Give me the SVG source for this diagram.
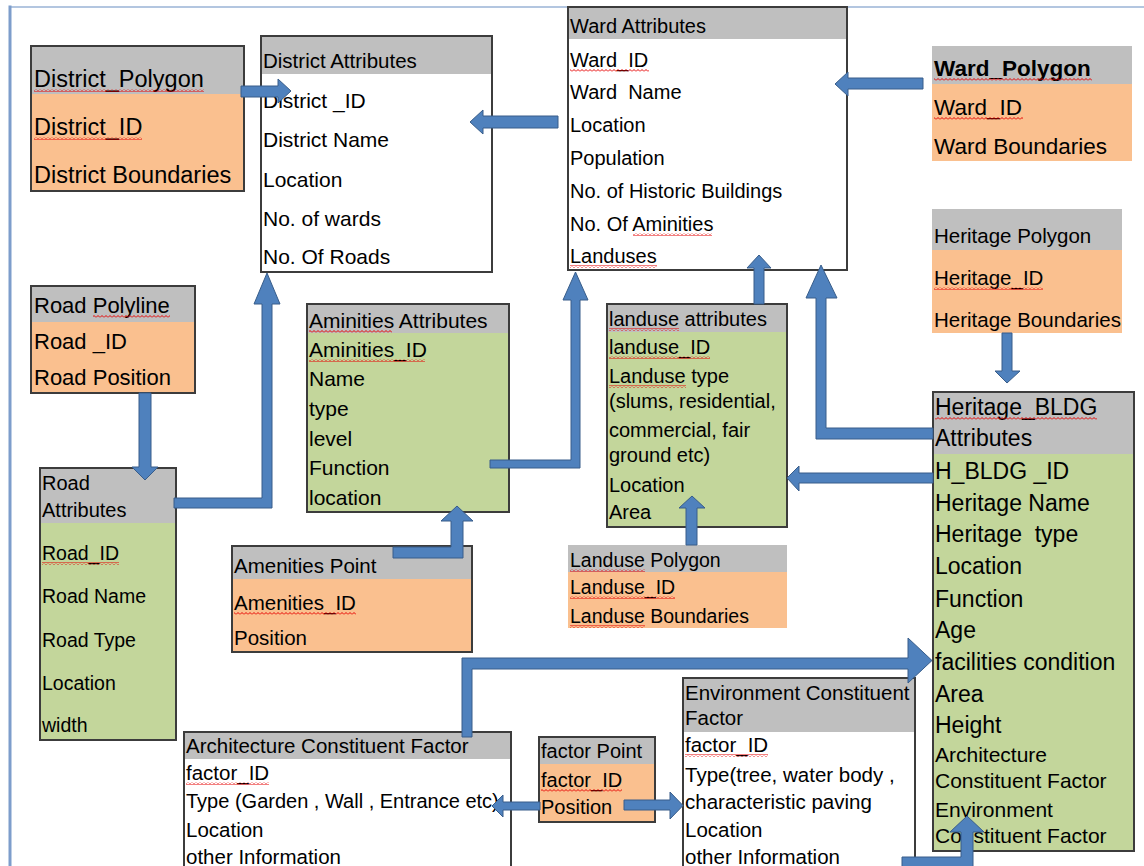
<svg xmlns="http://www.w3.org/2000/svg" width="1144" height="866" viewBox="0 0 1144 866">
<style>
  text { font-family: "Liberation Sans", Arial, sans-serif; fill: #000; white-space: pre; }
  .hdr { fill: #bfbfbf; }
  .org { fill: #fac08f; }
  .grn { fill: #c3d69b; }
  .wht { fill: #ffffff; }
  .bx { fill: none; stroke: #3c3c3c; stroke-width: 2; }
  .sq { fill: url(#sq); }
  #connectors path { fill: #4f81bd; stroke: #385d8a; stroke-width: 1; }
  .frame { stroke-linecap: square; fill: none; }
</style>
<defs>
  <pattern id="sq" width="4" height="3" patternUnits="userSpaceOnUse">
    <path d="M0,2.5 L2,0.5 L4,2.5" fill="none" stroke="#e60000" stroke-width="1"/>
  </pattern>
</defs>
<rect x="0" y="0" width="1144" height="866" fill="#ffffff"/>
<line class="frame" x1="10" y1="7" x2="1144" y2="7" stroke="#b3c6e0" stroke-width="2"/>
<line class="frame" x1="10" y1="7" x2="10" y2="866" stroke="#7d9dcb" stroke-width="3"/>

<g id="district_polygon" font-size="23.5">
  <rect class="hdr" x="31" y="46" width="213" height="48"/>
  <rect class="org" x="31" y="94" width="213" height="97"/>
  <rect class="bx" x="31" y="46" width="213" height="145"/>
  <text x="34" y="87">District_Polygon</text>
  <text x="34" y="135">District_ID</text>
  <text x="34" y="183">District Boundaries</text>
  <rect class="sq" x="34" y="89" width="170" height="3"/>
  <rect class="sq" x="34" y="137" width="108" height="3"/>
</g>

<g id="district_attributes" font-size="21">
  <rect class="hdr" x="261" y="36" width="231" height="38"/>
  <rect class="wht" x="261" y="74" width="231" height="198"/>
  <rect class="bx" x="261" y="36" width="231" height="236"/>
  <text x="263" y="68" font-size="20.5">District Attributes</text>
  <text x="263" y="108">District _ID</text>
  <text x="263" y="147">District Name</text>
  <text x="263" y="187">Location</text>
  <text x="263" y="226">No. of wards</text>
  <text x="263" y="264">No. Of Roads</text>
</g>

<g id="ward_attributes" font-size="20">
  <rect class="hdr" x="568" y="7" width="279" height="32"/>
  <rect class="wht" x="568" y="39" width="279" height="231"/>
  <rect class="bx" x="568" y="7" width="279" height="263"/>
  <text x="570" y="33">Ward Attributes</text>
  <text x="570" y="67">Ward_ID</text>
  <text x="570" y="99">Ward  Name</text>
  <text x="570" y="132">Location</text>
  <text x="570" y="165">Population</text>
  <text x="570" y="198">No. of Historic Buildings</text>
  <text x="570" y="231">No. Of Aminities</text>
  <text x="570" y="263">Landuses</text>
  <rect class="sq" x="570" y="69" width="79" height="3"/>
  <rect class="sq" x="633" y="233" width="79" height="3"/>
  <rect class="sq" x="570" y="265" width="87" height="3"/>
</g>

<g id="ward_polygon" font-size="22.5">
  <rect class="hdr" x="932" y="46" width="200" height="38"/>
  <rect class="org" x="932" y="84" width="200" height="77"/>
  <text x="934" y="76" font-weight="bold">Ward_Polygon</text>
  <text x="934" y="115">Ward_ID</text>
  <text x="934" y="154">Ward Boundaries</text>
  <rect class="sq" x="934" y="78" width="158" height="3"/>
  <rect class="sq" x="934" y="117" width="89" height="3"/>
</g>

<g id="heritage_polygon" font-size="20.5">
  <rect class="hdr" x="932" y="209" width="190" height="41"/>
  <rect class="org" x="932" y="250" width="190" height="83"/>
  <text x="934" y="243">Heritage Polygon</text>
  <text x="934" y="285">Heritage_ID</text>
  <text x="934" y="327">Heritage Boundaries</text>
  <rect class="sq" x="934" y="287" width="109" height="3"/>
</g>

<g id="road_polyline" font-size="22">
  <rect class="hdr" x="31" y="286" width="164" height="36"/>
  <rect class="org" x="31" y="322" width="164" height="71"/>
  <rect class="bx" x="31" y="286" width="164" height="107"/>
  <text x="34" y="313">Road Polyline</text>
  <text x="34" y="349">Road _ID</text>
  <text x="34" y="385">Road Position</text>
  <rect class="sq" x="93" y="315" width="77" height="3"/>
</g>

<g id="road_attributes" font-size="19.5">
  <rect class="hdr" x="40" y="468" width="136" height="55"/>
  <rect class="grn" x="40" y="523" width="136" height="217"/>
  <rect class="bx" x="40" y="468" width="136" height="272"/>
  <text x="42" y="490" font-size="20">Road</text>
  <text x="42" y="517" font-size="20">Attributes</text>
  <text x="42" y="560">Road_ID</text>
  <text x="42" y="603">Road Name</text>
  <text x="42" y="647">Road Type</text>
  <text x="42" y="690">Location</text>
  <text x="42" y="732">width</text>
  <rect class="sq" x="42" y="562" width="77" height="3"/>
</g>

<g id="aminities_attributes" font-size="21">
  <rect class="hdr" x="307" y="304" width="202" height="29"/>
  <rect class="grn" x="307" y="333" width="202" height="179"/>
  <rect class="bx" x="307" y="304" width="202" height="208"/>
  <text x="309" y="328">Aminities Attributes</text>
  <text x="309" y="357">Aminities_ID</text>
  <text x="309" y="386">Name</text>
  <text x="309" y="416">type</text>
  <text x="309" y="446">level</text>
  <text x="309" y="475">Function</text>
  <text x="309" y="505">location</text>
  <rect class="sq" x="309" y="330" width="83" height="3"/>
  <rect class="sq" x="309" y="359" width="116" height="3"/>
</g>

<g id="landuse_attributes" font-size="20">
  <rect class="hdr" x="607" y="304" width="180" height="28"/>
  <rect class="grn" x="607" y="332" width="180" height="195"/>
  <rect class="bx" x="607" y="304" width="180" height="223"/>
  <text x="609" y="326">landuse attributes</text>
  <text x="609" y="354">landuse_ID</text>
  <text x="609" y="383">Landuse type</text>
  <text x="609" y="408">(slums, residential,</text>
  <text x="609" y="437">commercial, fair</text>
  <text x="609" y="462">ground etc)</text>
  <text x="609" y="492">Location</text>
  <text x="609" y="519">Area</text>
  <rect class="sq" x="609" y="328" width="70" height="3"/>
  <rect class="sq" x="609" y="356" width="101" height="3"/>
  <rect class="sq" x="609" y="385" width="77" height="3"/>
</g>

<g id="landuse_polygon" font-size="19.5">
  <rect class="hdr" x="568" y="545" width="219" height="27"/>
  <rect class="org" x="568" y="572" width="219" height="56"/>
  <text x="570" y="567">Landuse Polygon</text>
  <text x="570" y="594">Landuse_ID</text>
  <text x="570" y="623">Landuse Boundaries</text>
  <rect class="sq" x="570" y="569" width="75" height="3"/>
  <rect class="sq" x="570" y="596" width="105" height="3"/>
  <rect class="sq" x="570" y="625" width="75" height="3"/>
</g>

<g id="heritage_bldg_attributes" font-size="23">
  <rect class="hdr" x="933" y="392" width="201" height="62"/>
  <rect class="grn" x="933" y="454" width="201" height="397"/>
  <rect class="bx" x="933" y="392" width="201" height="459"/>
  <text x="935" y="415">Heritage_BLDG</text>
  <text x="935" y="446">Attributes</text>
  <text x="935" y="479">H_BLDG _ID</text>
  <text x="935" y="511">Heritage Name</text>
  <text x="935" y="542">Heritage  type</text>
  <text x="935" y="574">Location</text>
  <text x="935" y="607">Function</text>
  <text x="935" y="638">Age</text>
  <text x="935" y="670">facilities condition</text>
  <text x="935" y="702">Area</text>
  <text x="935" y="733">Height</text>
  <text x="935" y="762" font-size="21">Architecture</text>
  <text x="935" y="788" font-size="21">Constituent Factor</text>
  <text x="935" y="817" font-size="21">Environment</text>
  <text x="935" y="843" font-size="21">Constituent Factor</text>
  <rect class="sq" x="935" y="417" width="162" height="3"/>
</g>

<g id="amenities_point" font-size="20.5">
  <rect class="hdr" x="232" y="546" width="240" height="33"/>
  <rect class="org" x="232" y="579" width="240" height="73"/>
  <rect class="bx" x="232" y="546" width="240" height="106"/>
  <text x="234" y="573">Amenities Point</text>
  <text x="234" y="610">Amenities_ID</text>
  <text x="234" y="645">Position</text>
  <rect class="sq" x="234" y="612" width="122" height="3"/>
</g>

<g id="architecture_constituent_factor" font-size="20.5">
  <rect class="hdr" x="184" y="732" width="327" height="27"/>
  <rect class="wht" x="184" y="759" width="327" height="120"/>
  <rect class="bx" x="184" y="732" width="327" height="147"/>
  <text x="186" y="753">Architecture Constituent Factor</text>
  <text x="186" y="780">factor_ID</text>
  <text x="186" y="808" font-size="20">Type (Garden , Wall , Entrance etc)</text>
  <text x="186" y="837">Location</text>
  <text x="186" y="864">other Information</text>
  <rect class="sq" x="186" y="782" width="83" height="3"/>
</g>

<g id="factor_point" font-size="20">
  <rect class="hdr" x="539" y="737" width="116" height="27"/>
  <rect class="org" x="539" y="764" width="116" height="58"/>
  <rect class="bx" x="539" y="737" width="116" height="85"/>
  <text x="541" y="758">factor Point</text>
  <text x="541" y="787">factor_ID</text>
  <text x="541" y="814">Position</text>
  <rect class="sq" x="541" y="789" width="81" height="3"/>
</g>

<g id="environment_constituent_factor" font-size="20.5">
  <rect class="hdr" x="683" y="678" width="232" height="54"/>
  <rect class="wht" x="683" y="732" width="232" height="147"/>
  <rect class="bx" x="683" y="678" width="232" height="201"/>
  <text x="685" y="700">Environment Constituent</text>
  <text x="685" y="725">Factor</text>
  <text x="685" y="752">factor_ID</text>
  <text x="685" y="782">Type(tree, water body ,</text>
  <text x="685" y="809">characteristic paving</text>
  <text x="685" y="837">Location</text>
  <text x="685" y="864">other Information</text>
  <rect class="sq" x="685" y="754" width="83" height="3"/>
</g>

<g id="connectors">
  <path d="M241,86 H278 V79 L291,91 L278,103 V97 H241 Z"/>
  <path d="M558,116 H483 V110 L470,122 L483,134 V128 H558 Z"/>
  <path d="M923,78 H848 V72 L835,84 L848,96 V89 H923 Z"/>
  <path d="M139,393 V467 H132 L145,480 L158,467 H151 V393 Z"/>
  <path d="M174,498 H262 V304 H254 L267,273 L280,304 H272 V508 H174 Z"/>
  <path d="M490,460 H571 V300 H563 L575.5,272 L588,300 H580 V468 H490 Z"/>
  <path d="M393,547 H451 V521 H441 L457,506 L473,521 H463 V558 H393 Z"/>
  <path d="M754,304 V268 H747 L759,255 L771,268 H764 V304 Z"/>
  <path d="M686,545 V508 H679 L692,496 L705,508 H697 V545 Z"/>
  <path d="M933,428 H826 V298 H837 L821,265 L806,298 H816 V439 H933 Z"/>
  <path d="M933,473 H799 V466 L787,478 L799,491 V483 H933 Z"/>
  <path d="M1002,333 V371 H995 L1007,383 L1020,371 H1012 V333 Z"/>
  <path d="M462,737 V658 H908 V638 L932,660.5 L908,683 V669 H472 V737 Z"/>
  <path d="M540,802 H503 V795 L492,806 L503,817 V810 H540 Z"/>
  <path d="M624,800 H670 V792 L683,805.5 L670,819 V810 H624 Z"/>
  <path d="M902,857 H961 V832 H950 L967,816 L984,832 H973 V868 H902 Z"/>
</g>
</svg>
